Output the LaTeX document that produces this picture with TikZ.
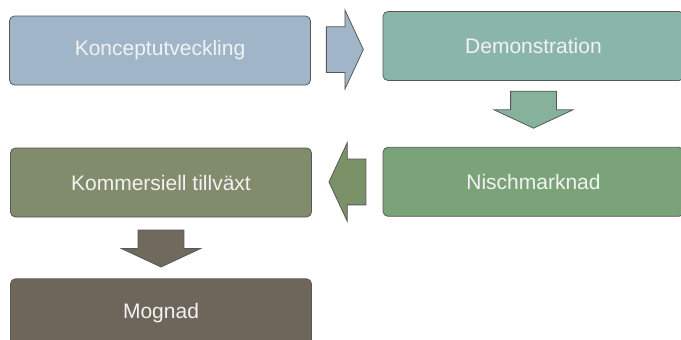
\documentclass[tikz,border=0pt]{standalone}
\usepackage{fontspec}
\setmainfont{Liberation Sans}
\usetikzlibrary{positioning,calc,shapes.arrows}
\definecolor{StageBlue}{RGB}{160,182,200}
\definecolor{StageTeal}{RGB}{138,182,170}
\definecolor{StageTealArrow}{RGB}{134,178,155}
\definecolor{StageGreen}{RGB}{122,163,122}
\definecolor{StageGreenArrow}{RGB}{123,146,105}
\definecolor{StageOlive}{RGB}{128,140,108}
\definecolor{StageBrown}{RGB}{110,102,90}
\definecolor{StageBrownArrow}{RGB}{112,106,92}
\definecolor{StageRule}{RGB}{88,88,88}
\definecolor{StageText}{RGB}{242,242,242}

\begin{document}
\begin{tikzpicture}[x=1pt,y=1pt,
    stage/.style={draw=StageRule,line width=0.8pt,rounded corners=5pt,minimum width=301pt,minimum height=69pt,text=StageText,font=\fontsize{21}{25}\selectfont},
    flow/.style={single arrow,anchor=tail,draw=StageRule,line width=0.8pt,inner xsep=0pt,inner ysep=22.5pt,minimum height=37pt,single arrow head extend=16.5pt,single arrow tip angle=130}
  ]
    \useasboundingbox (0,0) rectangle (681,-340);

    \node[stage,fill=StageBlue] (konc) at (160,-50.5) {Konceptutveckling};
    \node[stage,fill=StageTeal] (demo) at (533.5,-46) {Demonstration};
    \node[stage,fill=StageGreen,below=66pt of demo] (nisch) {Nischmarknad};
    \node[stage,fill=StageOlive] (komm) at (161,-182.5) {Kommersiell tillväxt};
    \node[stage,fill=StageBrown,below=61pt of komm] (mogn) {Mognad};

    % block arrows between the stages
    \node[flow,fill=StageBlue] (a1) at ($(konc.east)!0.21!(demo.west)$) {};
    \node[flow,fill=StageTealArrow,rotate=-90] (a2) at ($(demo.south)!0.15!(nisch.north)$) {};
    \node[flow,fill=StageGreenArrow,rotate=180] (a3) at ($(nisch.west)!0.23!(komm.east)$) {};
    \node[flow,fill=StageBrownArrow,rotate=-90] (a4) at ($(komm.south)!0.2!(mogn.north)$) {};
  \end{tikzpicture}
\end{document}
